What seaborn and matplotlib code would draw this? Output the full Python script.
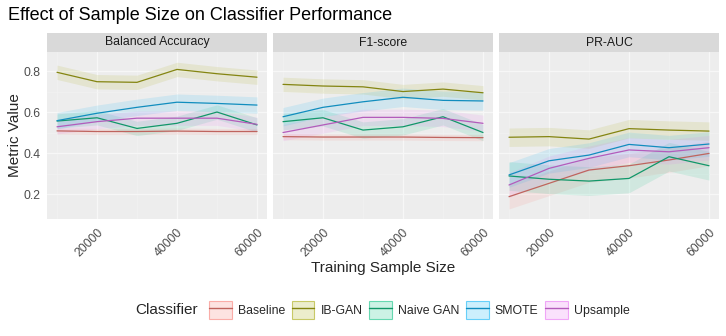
import numpy as np
import pandas as pd
import matplotlib
matplotlib.use("Agg")
import matplotlib.pyplot as plt
import matplotlib.colors as mcolors
import seaborn as sns
from matplotlib.patches import Patch
from matplotlib.lines import Line2D
from matplotlib.ticker import FixedLocator
from matplotlib.offsetbox import HPacker

# ---------------- data ----------------
sample_sizes = [10000, 20000, 30000, 40000, 50000, 60000]
metrics = ["Balanced Accuracy", "F1-score", "PR-AUC"]
classifiers = ["Baseline", "IB-GAN", "Naive GAN", "SMOTE", "Upsample"]

# Balanced Accuracy
ba_baseline = [0.508, 0.505, 0.505, 0.507, 0.505, 0.505]
ba_ibgan    = [0.794, 0.748, 0.745, 0.808, 0.787, 0.770]
ba_naivegan = [0.556, 0.572, 0.520, 0.545, 0.600, 0.537]
ba_smote    = [0.558, 0.594, 0.623, 0.648, 0.642, 0.634]
ba_upsample = [0.528, 0.553, 0.570, 0.570, 0.570, 0.540]

# F1-score
f1_baseline = [0.480, 0.478, 0.478, 0.478, 0.476, 0.475]
f1_ibgan    = [0.735, 0.727, 0.723, 0.700, 0.712, 0.694]
f1_naivegan = [0.553, 0.572, 0.512, 0.528, 0.577, 0.500]
f1_smote    = [0.577, 0.623, 0.650, 0.672, 0.657, 0.654]
f1_upsample = [0.500, 0.537, 0.574, 0.574, 0.569, 0.545]

# PR-AUC
pr_baseline = [0.187, 0.252, 0.317, 0.338, 0.366, 0.398]
pr_ibgan    = [0.477, 0.480, 0.468, 0.519, 0.512, 0.507]
pr_naivegan = [0.288, 0.272, 0.263, 0.276, 0.382, 0.338]
pr_smote    = [0.293, 0.362, 0.390, 0.442, 0.426, 0.444]
pr_upsample = [0.244, 0.325, 0.374, 0.415, 0.406, 0.426]

# half-widths of the shaded ribbons
ba_band = [0.015, 0.035, 0.035, 0.040, 0.035]
f1_band = [0.015, 0.035, 0.040, 0.045, 0.040]
pr_band = [0.060, 0.045, 0.070, 0.060, 0.060]

values = {
    "Balanced Accuracy": [ba_baseline, ba_ibgan, ba_naivegan, ba_smote, ba_upsample],
    "F1-score": [f1_baseline, f1_ibgan, f1_naivegan, f1_smote, f1_upsample],
    "PR-AUC": [pr_baseline, pr_ibgan, pr_naivegan, pr_smote, pr_upsample],
}
bands = {"Balanced Accuracy": ba_band, "F1-score": f1_band, "PR-AUC": pr_band}

rows = []
for m in metrics:
    for c, vals, b in zip(classifiers, values[m], bands[m]):
        for s, v in zip(sample_sizes, vals):
            rows.append({"Metric": m, "Classifier": c, "Size": s,
                         "Value": v, "lo": v - b, "hi": v + b})
df = pd.DataFrame(rows)

# ---------------- style ----------------
hue_cols = ["#F8766D", "#A3A500", "#00BF7D", "#00B0F6", "#E76BF3"]
def darken(c, f=0.3, base="#3a3a3a"):
    a = np.array(mcolors.to_rgb(c)); g = np.array(mcolors.to_rgb(base))
    return tuple(a * (1 - f) + g * f)
line_cols = [darken(c) for c in hue_cols]
fill_pal = dict(zip(classifiers, hue_cols))
line_pal = dict(zip(classifiers, line_cols))

sns.set_theme(style="white")
plt.rcParams["font.family"] = ["Liberation Sans", "DejaVu Sans"]

W, H = 726, 336
fig = plt.figure(figsize=(W / 100, H / 100), dpi=100)
fig.patch.set_facecolor("white")

def rect(l, t, r, b):
    return [l / W, 1 - b / H, (r - l) / W, (b - t) / H]

panel_x = [(47, 267), (273, 493), (499, 719)]
ptop, pbot, stop = 52, 219, 33
ylo, yhi = 0.078, 0.893

for i, (m, (l, r)) in enumerate(zip(metrics, panel_x)):
    ax = fig.add_axes(rect(l, ptop, r, pbot))
    ax.set_facecolor("#EDEDED")
    sub = df[df.Metric == m]
    for c in classifiers:
        s = sub[sub.Classifier == c]
        ax.fill_between(s.Size, s.lo, s.hi, color=fill_pal[c], alpha=0.12,
                        linewidth=0, zorder=2)
    sns.lineplot(data=sub, x="Size", y="Value", hue="Classifier",
                 palette=line_pal, hue_order=classifiers, ax=ax,
                 legend=False, linewidth=0.9, zorder=3)
    ax.set_xlim(7500, 62500)
    ax.set_ylim(ylo, yhi)
    ax.xaxis.set_major_locator(FixedLocator([20000, 40000, 60000]))
    ax.xaxis.set_minor_locator(FixedLocator([10000, 30000, 50000]))
    ax.yaxis.set_major_locator(FixedLocator([0.2, 0.4, 0.6, 0.8]))
    ax.yaxis.set_minor_locator(FixedLocator([0.3, 0.5, 0.7]))
    ax.grid(which="major", color="#F7F7F7", linewidth=0.9, zorder=0)
    ax.grid(which="minor", color="#F3F3F3", linewidth=0.45, zorder=0)
    ax.set_axisbelow(True)
    for sp in ax.spines.values():
        sp.set_visible(False)
    ax.set_xlabel(""); ax.set_ylabel("")
    ax.tick_params(axis="both", which="major", length=3, width=0.8,
                   color="#333333", labelcolor="#4D4D4D", labelsize=8.8,
                   direction="out", pad=2)
    ax.tick_params(which="minor", length=0)
    ax.set_xticklabels(["20000", "40000", "60000"], rotation=45,
                       ha="right", va="top", rotation_mode="anchor")
    if i == 0:
        ax.set_yticklabels(["0.2", "0.4", "0.6", "0.8"])
    else:
        ax.set_yticklabels([])
        ax.tick_params(axis="y", length=0)
    # strip
    sax = fig.add_axes(rect(l, stop, r, ptop))
    sax.set_facecolor("#D9D9D9")
    sax.set_xticks([]); sax.set_yticks([])
    for sp in sax.spines.values():
        sp.set_visible(False)
    sax.text(0.5, 0.5, m, ha="center", va="center", fontsize=8.8,
             color="#1A1A1A", transform=sax.transAxes)

fig.text(8 / W, 1 - 15 / H, "Effect of Sample Size on Classifier Performance",
         fontsize=13.0, color="black", ha="left", va="center")
fig.text(383 / W, 1 - 268 / H, "Training Sample Size", fontsize=11,
         ha="center", va="center")
fig.text(15 / W, 1 - 135.5 / H, "Metric Value", fontsize=11, rotation=90,
         ha="center", va="center")

handles = []
for c in classifiers:
    p = Patch(facecolor=mcolors.to_rgba(fill_pal[c], 0.2),
              edgecolor=mcolors.to_rgba(fill_pal[c], 0.55), linewidth=0.8)
    ln = Line2D([0], [0], color=line_pal[c], linewidth=1.0)
    handles.append((p, ln))
leg = fig.legend(handles, classifiers, loc="center",
                 bbox_to_anchor=(382.5 / W, 1 - 310 / H), ncol=5, frameon=False,
                 fontsize=8.8, title="Classifier", title_fontsize=11,
                 handlelength=1.85, handleheight=1.85, handletextpad=0.5,
                 columnspacing=0.55, borderpad=0)
title_box = leg._legend_title_box
entries = leg._legend_handle_box
leg._legend_box._children = [HPacker(children=[title_box, entries], sep=8,
                                     align="center", pad=0)]

fig.savefig("out.png", dpi=100)
